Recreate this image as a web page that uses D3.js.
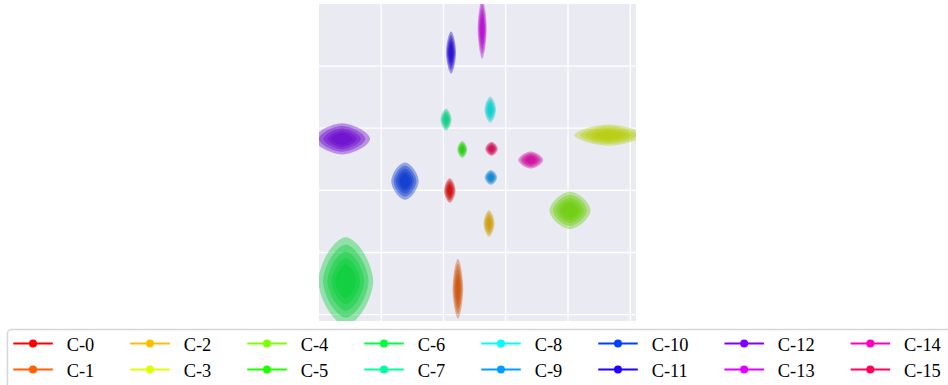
<!DOCTYPE html>
<html>
<head>
<meta charset="utf-8">
<script src="https://cdn.jsdelivr.net/npm/d3@7"></script>
<style>
  html, body { margin: 0; padding: 0; background: #fff; overflow: hidden; }
  svg { display: block; }
</style>
</head>
<body>
<svg class="chart" width="948" height="385"></svg>
<script>
// cluster labels and centres / spreads (grid units)
const labels = ["C-0","C-1","C-2","C-3","C-4","C-5","C-6","C-7",
                "C-8","C-9","C-10","C-11","C-12","C-13","C-14","C-15"];
const centerX = [2.11, 2.24, 2.74, 4.66, 4.04, 2.31, 0.44, 2.05,
                 2.76, 2.77, 1.39, 2.13, 0.38, 2.63, 3.41, 2.78];
const centerY = [1.99, 0.41, 1.46, 2.88, 1.67, 2.65, 0.53, 3.13,
                 3.29, 2.20, 2.14, 4.21, 2.82, 4.59, 2.48, 2.66];
const spreadX = [0.092, 0.085, 0.088, 0.55, 0.33, 0.08, 0.44, 0.088,
                 0.093, 0.10, 0.22, 0.08, 0.45, 0.072, 0.20, 0.10];
const spreadY = [0.196, 0.48, 0.214, 0.17, 0.30, 0.135, 0.71, 0.177,
                 0.21, 0.12, 0.30, 0.34, 0.25, 0.48, 0.137, 0.113];
const xTicks = [1, 2, 3, 4, 5];
const yTicks = [0, 1, 2, 3, 4];

const data = labels.map((name, i) => ({
    name, i, x: centerX[i], y: centerY[i], sx: spreadX[i], sy: spreadY[i]
}));

const svg = d3.select('.chart');

const plot = { left: 319, top: 4, right: 636, bottom: 321 };

const xScale = d3.scaleLinear()
    .domain([0.01, 5.1])
    .range([plot.left, plot.right]);

const yScale = d3.scaleLinear()
    .domain([-0.11, 4.99])
    .range([plot.bottom, plot.top]);

const hue = i => i * 360 / labels.length;
const dark = i => d3.hsl(hue(i), 1, 0.4).formatHex();
const bright = i => d3.hsl(hue(i), 1, 0.5).formatHex();

svg.append('defs').append('clipPath')
    .attr('id', 'plotClip')
    .append('rect')
    .attr('x', plot.left)
    .attr('y', plot.top)
    .attr('width', plot.right - plot.left)
    .attr('height', plot.bottom - plot.top);

// background + grid
svg.append('rect')
    .attr('x', plot.left)
    .attr('y', plot.top)
    .attr('width', plot.right - plot.left)
    .attr('height', plot.bottom - plot.top)
    .attr('fill', '#eaeaf2');

const grid = svg.append('g').attr('clip-path', 'url(#plotClip)');

grid.append('g')
    .attr('transform', `translate(0, ${plot.top})`)
    .call(d3.axisBottom(xScale).tickValues(xTicks).tickSize(plot.bottom - plot.top).tickFormat(''))
    .call(g => g.select('.domain').remove())
    .call(g => g.selectAll('line').attr('stroke', '#fff').attr('stroke-width', 1.3));

grid.append('g')
    .attr('transform', `translate(${plot.left}, 0)`)
    .call(d3.axisRight(yScale).tickValues(yTicks).tickSize(plot.right - plot.left).tickFormat(''))
    .call(g => g.select('.domain').remove())
    .call(g => g.selectAll('line').attr('stroke', '#fff').attr('stroke-width', 1.3));

// density-like nested contours for every cluster
const levels = [1, 0.83, 0.67, 0.52, 0.38];
const shapePower = 1.6;
const blobLine = d3.line()
    .x(p => xScale(p[0]))
    .y(p => yScale(p[1]))
    .curve(d3.curveLinearClosed);

function blobPoints(d, s) {
    const pts = [];
    for (let k = 0; k < 120; k++) {
        const t = k / 120 * 2 * Math.PI;
        const c = Math.cos(t), sn = Math.sin(t);
        const ex = Math.sign(c) * Math.pow(Math.abs(c), 2 / shapePower);
        const ey = Math.sign(sn) * Math.pow(Math.abs(sn), 2 / shapePower);
        pts.push([d.x + ex * d.sx * s, d.y + ey * d.sy * s]);
    }
    return pts;
}

const blobs = svg.append('g').attr('clip-path', 'url(#plotClip)');

blobs.selectAll('g')
    .data(data)
    .join('g')
    .each(function (d) {
        d3.select(this).selectAll('path')
            .data(levels)
            .join('path')
            .attr('d', s => blobLine(blobPoints(d, s)))
            .attr('fill', dark(d.i))
            .attr('fill-opacity', 0.38)
            .attr('stroke', 'none');
    });

// legend
const legend = svg.append('g');

legend.append('rect')
    .attr('x', 7.5)
    .attr('y', 329.5)
    .attr('width', 960)
    .attr('height', 70)
    .attr('rx', 4)
    .attr('fill', '#fff')
    .attr('stroke', '#d6d6d6')
    .attr('stroke-width', 1.5);

const rowY = [343.5, 369.5];
let colX = 13.3;
for (let c = 0; c < labels.length / 2; c++) {
    let widest = 0;
    for (let r = 0; r < 2; r++) {
        const i = c * 2 + r;
        const item = legend.append('g');
        item.append('line')
            .attr('x1', colX).attr('x2', colX + 39.5)
            .attr('y1', rowY[r]).attr('y2', rowY[r])
            .attr('stroke', bright(i))
            .attr('stroke-width', 2);
        item.append('circle')
            .attr('cx', colX + 19.7)
            .attr('cy', rowY[r])
            .attr('r', 4)
            .attr('fill', bright(i));
        const t = item.append('text')
            .attr('x', colX + 53.4)
            .attr('y', rowY[r] + 7)
            .style('font-family', 'Liberation Serif')
            .style('font-size', '18.4px')
            .attr('fill', '#000')
            .text(labels[i]);
        widest = Math.max(widest, t.node().getComputedTextLength());
    }
    colX += 53.4 + widest + 36;
}
</script>
</body>
</html>
